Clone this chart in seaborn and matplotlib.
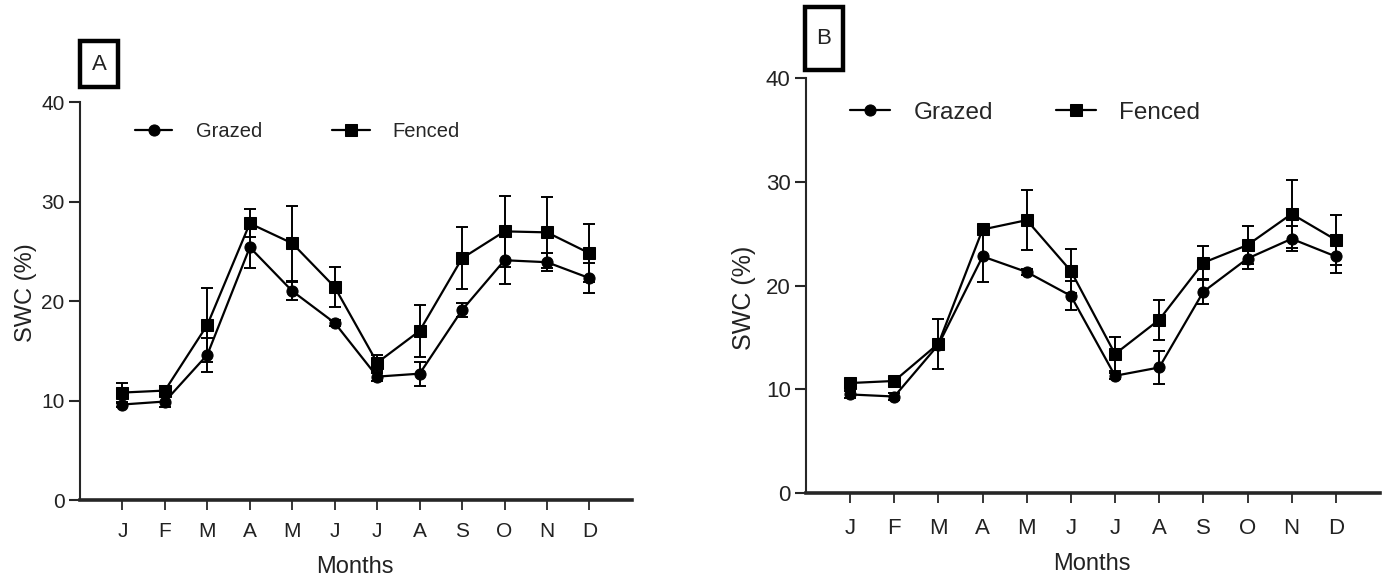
import matplotlib
matplotlib.use("Agg")
import matplotlib.pyplot as plt
from matplotlib.patches import Rectangle
import pandas as pd
import seaborn as sns

# Month labels (x categories)
months = ["J", "F", "M", "A", "M", "J", "J", "A", "S", "O", "N", "D"]
month_pos = list(range(len(months)))

# Panel A: soil water content (%) with error bars
grazed_a = [9.6, 9.9, 14.6, 25.4, 21.0, 17.8, 12.4, 12.7, 19.1, 24.1, 23.9, 22.3]
grazed_a_err = [0.3, 0.6, 1.7, 2.1, 0.9, 0.3, 0.4, 1.2, 0.7, 2.4, 0.9, 1.5]
fenced_a = [10.8, 11.0, 17.6, 27.8, 25.8, 21.4, 13.8, 17.0, 24.3, 27.0, 26.9, 24.8]
fenced_a_err = [1.0, 0.5, 3.7, 1.4, 3.8, 2.0, 0.8, 2.6, 3.1, 3.6, 3.6, 2.9]

# Panel B
grazed_b = [9.5, 9.3, 14.3, 22.8, 21.3, 19.0, 11.3, 12.1, 19.4, 22.6, 24.5, 22.8]
grazed_b_err = [0.3, 0.3, 0.3, 2.5, 0.3, 1.4, 0.3, 1.6, 1.2, 1.0, 1.2, 1.6]
fenced_b = [10.6, 10.8, 14.4, 25.4, 26.3, 21.4, 13.4, 16.7, 22.2, 23.9, 26.9, 24.4]
fenced_b_err = [0.3, 0.4, 2.4, 0.4, 2.9, 2.1, 1.6, 1.95, 1.65, 1.8, 3.3, 2.4]

y_ticks = [0, 10, 20, 30, 40]

sns.set_style("ticks")
plt.rcParams["font.family"] = ["Liberation Sans", "DejaVu Sans"]

W, H = 1388, 579
fig = plt.figure(figsize=(W / 100, H / 100), dpi=100)
ax_a = fig.add_axes([0.0576, 0.1364, 0.3977, 0.6874])
ax_b = fig.add_axes([0.5807, 0.1485, 0.4135, 0.7168])

TXT = "#222222"


def draw_panel(ax, grazed, grazed_err, fenced, fenced_err, st):
    df = pd.DataFrame({"pos": month_pos, "Grazed": grazed, "Fenced": fenced})
    for col, err, mk, ms in [("Grazed", grazed_err, "o", 8), ("Fenced", fenced_err, "s", 9)]:
        ax.errorbar(df["pos"], df[col], yerr=err, fmt="none", ecolor="black",
                    elinewidth=1.4, capsize=4.5, capthick=1.4, zorder=2)
        sns.lineplot(data=df, x="pos", y=col, ax=ax, color="black", linewidth=1.6,
                     marker=mk, markersize=ms, markeredgecolor="black",
                     label=col, zorder=3)

    ax.set_xlim(-1, 12)
    ax.set_ylim(0, 40)
    ax.set_yticks(y_ticks)
    ax.set_xticks(month_pos)
    ax.set_xticklabels(months)
    sns.despine(ax=ax)
    ax.spines["left"].set_linewidth(1.5)
    ax.spines["bottom"].set_linewidth(2.6)
    ax.tick_params(axis="y", direction="out", length=8, width=1.5, pad=3,
                   labelsize=st["yfs"], labelcolor=TXT)
    ax.tick_params(axis="x", direction="out", length=7, width=1.3, pad=st["xpad"],
                   labelsize=st["xfs"], labelcolor=TXT)
    ax.set_xlabel("Months", fontsize=17, color=TXT)
    ax.xaxis.set_label_coords(0.498, st["xlab_y"])
    ax.set_ylabel("SWC (%)", fontsize=st["ylab_fs"], color=TXT)
    ax.yaxis.set_label_coords(st["ylab_x"], st["ylab_y"])
    ax.legend(loc="center left", bbox_to_anchor=st["anchor"], ncol=2,
              frameon=False, fontsize=st["lfs"], handlelength=st["hl"],
              handletextpad=st["htp"], columnspacing=st["cs"],
              borderaxespad=0, borderpad=0)


draw_panel(ax_a, grazed_a, grazed_a_err, fenced_a, fenced_a_err,
           {"yfs": 15, "xfs": 15, "xpad": 9, "xlab_y": -0.14, "ylab_fs": 17,
            "ylab_x": -0.078, "ylab_y": 0.52,
            "anchor": (0.10, 0.925), "lfs": 14.5, "hl": 1.85, "htp": 1.15, "cs": 3.5})
draw_panel(ax_b, grazed_b, grazed_b_err, fenced_b, fenced_b_err,
           {"yfs": 16, "xfs": 16, "xpad": 11, "xlab_y": -0.145, "ylab_fs": 18,
            "ylab_x": -0.088, "ylab_y": 0.47,
            "anchor": (0.077, 0.916), "lfs": 17.5, "hl": 1.65, "htp": 0.95, "cs": 2.6})

# Panel letter boxes (pixel positions converted to figure fractions)
for label, (x0, y0, x1, y1) in [("A", (80, 41, 118, 87)), ("B", (805, 7, 843, 70))]:
    fig.patches.append(Rectangle((x0 / W, 1 - y1 / H), (x1 - x0) / W, (y1 - y0) / H,
                                 transform=fig.transFigure, fill=False,
                                 edgecolor="black", linewidth=3.2))
    fig.text((x0 + x1) / 2 / W, 1 - (y0 + y1) / 2 / H, label, ha="center",
             va="center", fontsize=16, color=TXT)

fig.savefig("out.png", dpi=100)
